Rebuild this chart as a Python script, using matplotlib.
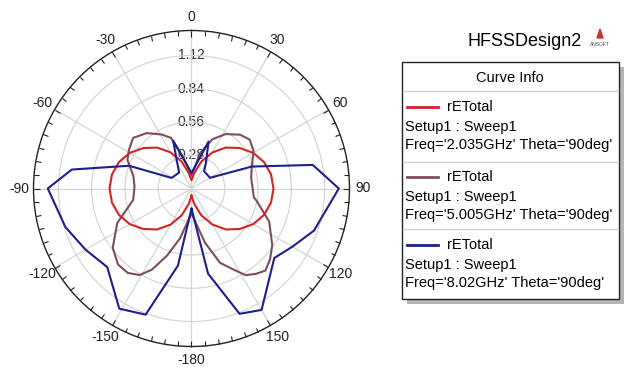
#
# Polar radiation pattern of rETotal at three frequencies (phi cut, theta = 90 deg)
#
import numpy as np
import matplotlib.pyplot as plt
from matplotlib.patches import Rectangle, Polygon
from matplotlib.lines import Line2D

plt.rcParams['font.family'] = ['Liberation Sans', 'DejaVu Sans']

# phi (deg) and rETotal values read for each sweep
phi_2g = [-180, -170, -160, -150, -140, -130, -120, -110, -100, -90, -80, -70, -60,
          -50, -40, -30, -20, -10, 0, 10, 20, 30, 40, 50, 60, 70, 80, 90, 100,
          110, 120, 130, 140, 150, 160, 170, 180]
re_2g = [0.06, 0.13, 0.24, 0.35, 0.45, 0.53, 0.60, 0.65, 0.68, 0.69, 0.68, 0.65, 0.60,
         0.53, 0.45, 0.35, 0.24, 0.13, 0.07, 0.13, 0.24, 0.35, 0.45, 0.53, 0.60, 0.65,
         0.68, 0.69, 0.68, 0.65, 0.60, 0.53, 0.45, 0.35, 0.24, 0.13, 0.06]

phi_5g = [-180, -167, -160, -154, -149, -143, -136, -127, -115, -101, -88, -78, -66,
          -58, -49, -39, -29, -22, -15, 0, 14, 23, 32, 42, 50, 59, 70, 80, 98, 101,
          113, 125, 132, 138, 143, 148, 152, 159, 166, 180]
re_5g = [0.21, 0.43, 0.60, 0.76, 0.85, 0.89, 0.89, 0.83, 0.69, 0.50, 0.48, 0.50, 0.59,
         0.62, 0.65, 0.60, 0.52, 0.46, 0.28, 0.11, 0.31, 0.45, 0.54, 0.61, 0.64, 0.61,
         0.54, 0.51, 0.53, 0.56, 0.71, 0.83, 0.89, 0.93, 0.90, 0.86, 0.78, 0.67, 0.47,
         0.21]

phi_8g = [-180, -170, -160, -149, -133, -120, -107, -90, -81, -70, -62, -38, -21, 0,
          20, 30, 36, 60, 70, 79, 90, 109, 120, 130, 150, 159, 169, 180]
re_8g = [0.17, 0.66, 1.13, 1.18, 0.97, 1.03, 1.11, 1.21, 1.02, 0.56, 0.19, 0.17, 0.43,
         0.13, 0.42, 0.24, 0.18, 0.18, 0.54, 1.04, 1.24, 1.09, 0.98, 0.91, 1.18, 1.13,
         0.73, 0.17]

r_ticks = [0.28, 0.56, 0.84, 1.12]
theta_ticks = [0, 30, 60, 90, 120, 150, 180, 210, 240, 270, 300, 330]
theta_labels = ['0', '30', '60', '90', '120', '150', '-180', '-150', '-120', '-90', '-60', '-30']

curves = [
    ("2.035GHz", phi_2g, re_2g, '#d42424', 3),
    ("5.005GHz", phi_5g, re_5g, '#7e4d60', 2),
    ("8.02GHz", phi_8g, re_8g, '#1e1e8e', 4),
]

W, H = 626, 367
fig = plt.figure(figsize=(W / 100, H / 100), dpi=100)


def fx(x):
    return x / W


def fy(y):
    return 1 - y / H


ax = fig.add_axes([33.5 / W, 20.5 / H, 316 / W, 316 / H], projection='polar')
ax.set_theta_zero_location('N')
ax.set_theta_direction(-1)
ax.set_ylim(0, 1.33)

for name, phi, re, col, z in curves:
    ax.plot(np.deg2rad(phi), re, color=col, lw=1.5, zorder=z)

ax.set_xticks(np.deg2rad(theta_ticks))
ax.set_xticklabels(theta_labels)
ax.set_xticks(np.deg2rad(np.arange(0, 360, 5)), minor=True)
# tick marks on the outer circle only, pointing outwards
ax.tick_params(axis='x', which='both', bottom=False, top=True)
ax.tick_params(axis='x', which='major', length=4, width=0.8, direction='in',
               pad=3, labelsize=10, colors='#222222')
ax.tick_params(axis='x', which='minor', length=3.5, width=0.8, direction='in',
               colors='#222222')
ax.set_yticks(r_ticks)
ax.set_yticklabels([])
ax.grid(color='#d6d6d6', lw=0.9)
ax.spines['polar'].set_color('#222222')
ax.spines['polar'].set_linewidth(1.0)
for r in r_ticks:
    ax.text(0, r, '{:.2f}'.format(r), ha='center', va='center', fontsize=10,
            color='#333333', zorder=1)

# Curve info box
fig.text(fx(525), fy(42), 'HFSSDesign2', ha='center', va='center', fontsize=13)
fig.patches.append(Polygon([[fx(597), fy(38)], [fx(603), fy(38)], [fx(600), fy(29)]],
                           closed=True, transform=fig.transFigure, color='#c0392b'))
fig.text(fx(600), fy(45), 'ANSOFT', ha='center', va='center', fontsize=3.5, color='#444444')

fig.patches.append(Rectangle((fx(407), fy(304)), fx(217) - fx(0), fy(0) - fy(237),
                             transform=fig.transFigure, facecolor='#b4b4b4',
                             edgecolor='none'))
fig.patches.append(Rectangle((fx(402), fy(299)), fx(217) - fx(0), fy(0) - fy(237),
                             transform=fig.transFigure, facecolor='white',
                             edgecolor='#222222', lw=1.0))
for ys in [91, 162, 228.5]:
    fig.lines.append(Line2D([fx(403), fx(618)], [fy(ys), fy(ys)],
                            transform=fig.transFigure, color='#cfcfcf', lw=1.0))
fig.text(fx(510), fy(78.5), 'Curve Info', ha='center', va='center', fontsize=10.5)

entry_top = [107, 177, 245]
for (name, phi, re, col, z), y0 in zip(curves, entry_top):
    fig.lines.append(Line2D([fx(407), fx(438)], [fy(y0), fy(y0)],
                            transform=fig.transFigure, color=col, lw=2.0))
    fig.text(fx(447), fy(y0), 'rETotal', ha='left', va='center', fontsize=10.5)
    fig.text(fx(405), fy(y0 + 19.5), 'Setup1 : Sweep1', ha='left', va='center',
             fontsize=10.5)
    fig.text(fx(405), fy(y0 + 38), "Freq='{:s}' Theta='90deg'".format(name),
             ha='left', va='center', fontsize=10.5)

plt.savefig('out.png', dpi=100)
